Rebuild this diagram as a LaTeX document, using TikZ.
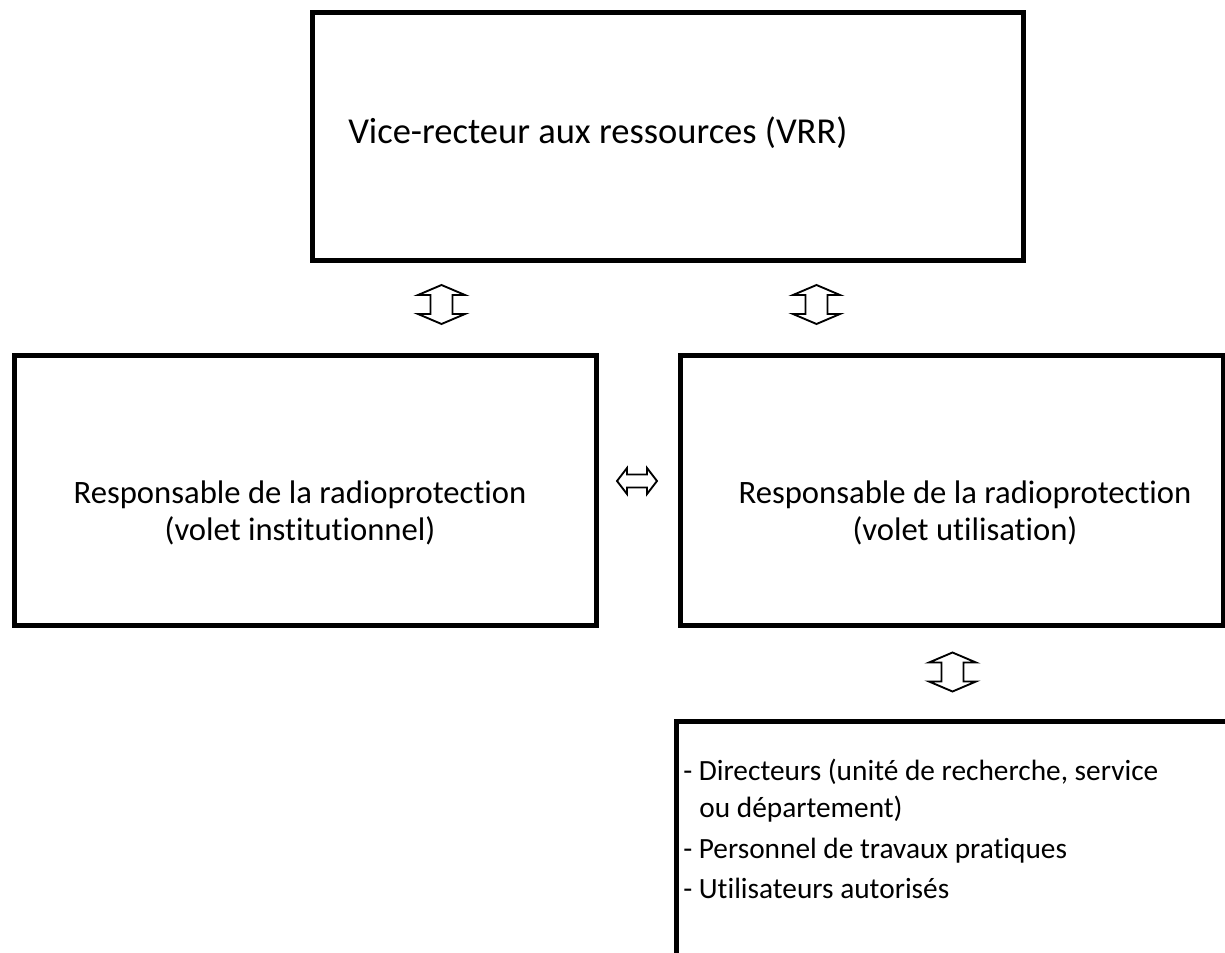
\documentclass[tikz,border=0pt]{standalone}
\usepackage{fontspec}
\setmainfont{Carlito}[Ligatures=NoCommon]
\begin{document}
\begin{tikzpicture}[x=0.75pt,y=-0.75pt,
  box/.style={draw=black,line width=3.75pt,fill=none,inner sep=0pt,anchor=north west},
  lbl/.style={inner sep=0pt},
  arr/.style={draw=black,line width=1.4pt,line join=miter,fill=white},
  vdarrow/.pic={\path[arr] (0,-19.5) -- (23.5,-9.5) -- (11,-9.5) -- (11,9.5) -- (23.5,9.5) -- (0,19.5) -- (-23.5,9.5) -- (-11,9.5) -- (-11,-9.5) -- (-23.5,-9.5) -- cycle;},
  hdarrow/.pic={\path[arr] (-20,0) -- (-10,-13) -- (-10,-6.5) -- (10,-6.5) -- (10,-13) -- (20,0) -- (10,13) -- (10,6.5) -- (-10,6.5) -- (-10,13) -- cycle;}]
\useasboundingbox (0,0) rectangle (1225,953);
\node[box,minimum width=711pt*0.75,minimum height=248.5pt*0.75] (vrr) at (310,9.5) {};
\node[lbl,anchor=west,font=\fontsize{27.4}{32}\selectfont] (vrrt) at (348,133) {Vice-recteur aux ressources (VRR)};
\node[box,minimum width=582.5pt*0.75,minimum height=269.5pt*0.75] (inst) at (11.5,353) {};
\node[lbl,align=center,font=\fontsize{24.5}{27.75}\selectfont] (instt) at (300,512.5) {Responsable de la radioprotection\\(volet institutionnel)};
\node[box,minimum width=543.5pt*0.75,minimum height=270pt*0.75] (util) at (677.5,352.5) {};
\node[lbl,align=center,font=\fontsize{24.5}{27.75}\selectfont] (utilt) at (965,512.5) {Responsable de la radioprotection\\(volet utilisation)};
\node[box,minimum width=552.5pt*0.75,minimum height=260pt*0.75] (users) at (673.5,718.5) {};
\node[lbl,align=left,anchor=north west,font=\fontsize{22}{27.5}\selectfont] (userst) at (683,759) {- Directeurs (unité de recherche, service\\\hspace*{0.55em}ou département)\\[3pt]- Personnel de travaux pratiques\\[3pt]- Utilisateurs autorisés};
\pic (a1) at (441.5,304.5) {vdarrow};
\pic (a2) at (816.5,304.5) {vdarrow};
\pic (a3) at (952.5,672) {vdarrow};
\pic (a4) at (637,481) {hdarrow};
\end{tikzpicture}
\end{document}
